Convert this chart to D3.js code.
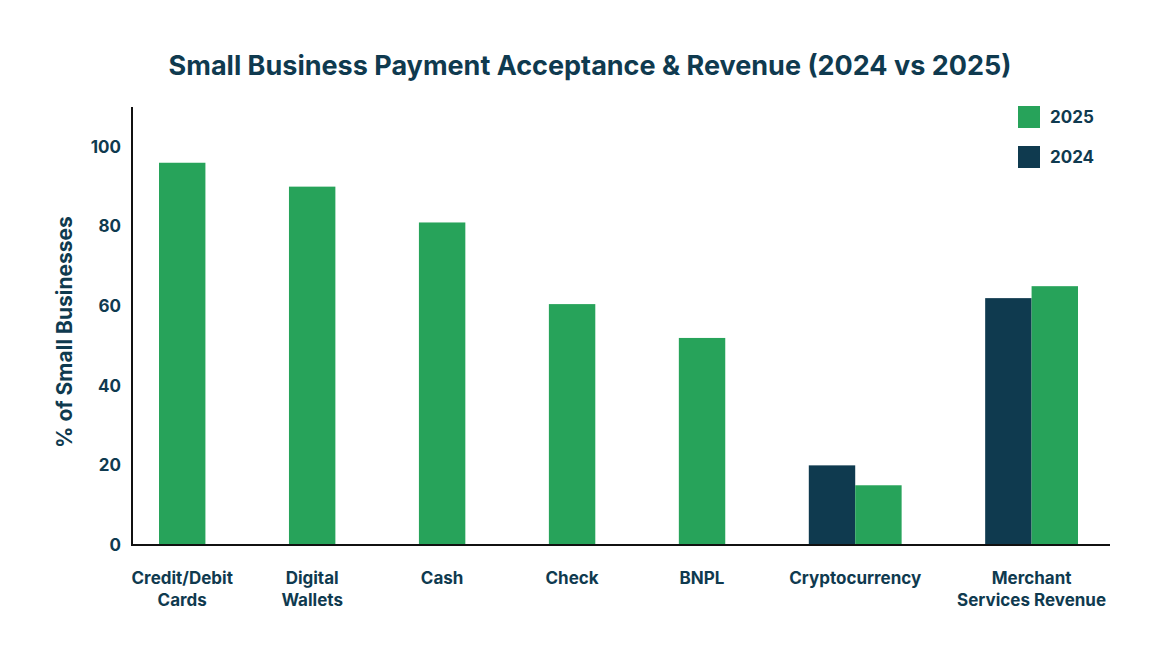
<!DOCTYPE html>
<html><head><meta charset="utf-8">
<script src="https://cdn.jsdelivr.net/npm/d3@7"></script>
<style>body{margin:0;background:#fff}text{font-family:Inter,"Noto Sans",sans-serif;font-weight:700;fill:#0f3a4f}</style>
</head><body><svg id="chart" width="1160" height="660"></svg>
<script>
const categories = [["Credit/Debit","Cards"],["Digital","Wallets"],["Cash"],["Check"],["BNPL"],["Cryptocurrency"],["Merchant","Services Revenue"]];
const values2024 = [null, null, null, null, null, 20, 62];
const values2025 = [96, 90, 81, 60.5, 52, 15, 65];
const yTicks = [0, 20, 40, 60, 80, 100];

const navy = "#0f3a4f", green = "#27a35a";
const svg = d3.select("#chart");
const plotLeft = 132, plotRight = 1110, plotTop = 107, plotBottom = 545;

const y = d3.scaleLinear().domain([0, 110]).range([plotBottom, plotTop]);

// group layout in bar-width units: bars side by side, constant gap between groups
const gap = 1.8;
let cursor = 0;
const groups = categories.map((c, i) => {
  const bars = [];
  if (values2024[i] != null) bars.push({year: 2024, v: values2024[i]});
  bars.push({year: 2025, v: values2025[i]});
  const g = {label: c, start: cursor, bars};
  cursor += bars.length + gap;
  return g;
});
const totalUnits = cursor - gap;
const x = d3.scaleLinear().domain([0, totalUnits]).range([159, 1078]);
const bw = x(1) - x(0);

groups.forEach(g => {
  g.bars.forEach((b, j) => {
    svg.append("rect")
      .attr("x", x(g.start + j)).attr("y", y(b.v))
      .attr("width", bw).attr("height", y(0) - y(b.v))
      .attr("fill", b.year === 2024 ? navy : green);
  });
  const cx = x(g.start + g.bars.length / 2);
  const t = svg.append("text").attr("text-anchor", "middle").attr("font-size", 17);
  g.label.forEach((l, k) => t.append("tspan").attr("x", cx).attr("y", 584 + k * 22).text(l));
});

// axes
svg.append("line").attr("x1", plotLeft).attr("x2", plotLeft).attr("y1", plotTop).attr("y2", plotBottom).attr("stroke", "#111").attr("stroke-width", 2);
svg.append("line").attr("x1", plotLeft - 1).attr("x2", plotRight).attr("y1", plotBottom).attr("y2", plotBottom).attr("stroke", "#111").attr("stroke-width", 2);
svg.selectAll(".ytick").data(yTicks).join("text")
  .attr("x", 121).attr("y", d => y(d)).attr("dy", "0.35em")
  .attr("text-anchor", "end").attr("font-size", 17).text(d => d);

svg.append("text").attr("transform", `translate(72,${(plotTop + plotBottom) / 2 + 6}) rotate(-90)`)
  .attr("text-anchor", "middle").attr("font-size", 21).text("% of Small Businesses");

svg.append("text").attr("x", 590).attr("y", 75).attr("text-anchor", "middle")
  .attr("font-size", 27).text("Small Business Payment Acceptance & Revenue (2024 vs 2025)");

// legend
[{k: "2025", c: green}, {k: "2024", c: navy}].forEach((d, i) => {
  svg.append("rect").attr("x", 1018).attr("y", 106 + i * 40).attr("width", 22).attr("height", 22).attr("fill", d.c);
  svg.append("text").attr("x", 1050).attr("y", 117 + i * 40).attr("dy", "0.35em").attr("font-size", 17).text(d.k);
});
</script></body></html>
